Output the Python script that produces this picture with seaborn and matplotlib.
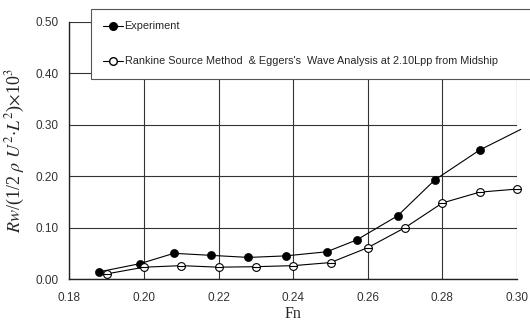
import matplotlib
matplotlib.use("Agg")
import matplotlib.pyplot as plt
import seaborn as sns
import pandas as pd
from matplotlib.lines import Line2D

# Experiment (filled circles)
exp_fn = [0.188, 0.199, 0.208, 0.218, 0.228, 0.238, 0.249, 0.257, 0.268, 0.278, 0.290]
exp_rw = [0.014, 0.030, 0.050, 0.046, 0.042, 0.045, 0.053, 0.076, 0.123, 0.193, 0.251]
# faired curve for the experiment runs on to Fn = 0.30
exp_curve_end_fn = [0.301]
exp_curve_end_rw = [0.291]

# Rankine source method + Eggers wave analysis (open circles)
calc_fn = [0.19, 0.20, 0.21, 0.22, 0.23, 0.24, 0.25, 0.26, 0.27, 0.28, 0.29, 0.30]
calc_rw = [0.010, 0.023, 0.026, 0.023, 0.024, 0.026, 0.032, 0.061, 0.100, 0.148, 0.169, 0.175]

x_ticks = [0.18, 0.20, 0.22, 0.24, 0.26, 0.28, 0.30]
y_ticks = [0.00, 0.10, 0.20, 0.30, 0.40, 0.50]

exp_df = pd.DataFrame({"Fn": exp_fn, "Rw": exp_rw})
exp_line = pd.DataFrame({"Fn": exp_fn + exp_curve_end_fn, "Rw": exp_rw + exp_curve_end_rw})
calc_df = pd.DataFrame({"Fn": calc_fn, "Rw": calc_rw})

sns.set_style("white")
plt.rcParams["font.family"] = ["Liberation Sans", "DejaVu Sans"]
plt.rcParams["mathtext.fontset"] = "stix"

fig = plt.figure(figsize=(5.3, 3.22), dpi=100)
ax = fig.add_axes([0.131, 0.1335, 0.8445, 0.7982])

sns.lineplot(data=exp_line, x="Fn", y="Rw", color="black", lw=0.8, ax=ax, sort=False, clip_on=False)
sns.lineplot(data=calc_df, x="Fn", y="Rw", color="black", lw=0.8, ax=ax, sort=False)
sns.scatterplot(data=exp_df, x="Fn", y="Rw", color="black", edgecolor="black", s=34, ax=ax, zorder=5)
ax.plot(calc_df["Fn"], calc_df["Rw"], ls="none", marker="o", ms=5.6, mfc="white",
        mec="black", mew=0.8, zorder=5, clip_on=False)
# horizontal bar through the open circles
ax.plot(calc_df["Fn"], calc_df["Rw"], ls="none", marker="_", ms=5.6, mec="black", mew=0.8,
        zorder=6, clip_on=False)

ax.set_xlim(0.18, 0.30)
ax.set_ylim(0.0, 0.50)
ax.set_xticks(x_ticks)
ax.set_yticks(y_ticks)
ax.set_xticklabels([f"{v:.2f}" for v in x_ticks])
ax.set_yticklabels([f"{v:.2f}" for v in y_ticks])
ax.tick_params(axis="y", length=0, labelsize=8.5, pad=8, colors="#333333")
ax.tick_params(axis="x", length=0, labelsize=8.5, pad=9, colors="#333333")
ax.grid(True, color="#333333", lw=0.8)
for side in ["top", "right"]:
    ax.spines[side].set_visible(False)
for side in ["left", "bottom"]:
    ax.spines[side].set_color("#222222")
    ax.spines[side].set_linewidth(1.0)

ax.set_xlabel("Fn", family="Liberation Serif", fontsize=11.5, labelpad=2)
ax.set_ylabel(r"$Rw$/(1/2 $\rho$ $U^2$$\cdot$$L^2$)$\times$10$^3$",
              family="Liberation Serif", fontsize=13, labelpad=6)

handles = [
    Line2D([], [], color="black", lw=0.8, marker="o", ms=5.5, mfc="black", mec="black"),
    Line2D([], [], color="black", lw=0.8, marker="o", ms=5.5, mfc="white", mec="black"),
]
labels = ["Experiment",
          "Rankine Source Method  & Eggers's  Wave Analysis at 2.10Lpp from Midship"]
leg = fig.legend(handles, labels, loc="upper left", bbox_to_anchor=(91 / 530, 1 - 80 / 322, 0.9, 71 / 322),
                 mode="expand", borderaxespad=0, fontsize=7.8, frameon=True, fancybox=False,
                 handlelength=1.8, handletextpad=0.15, labelspacing=2.3, borderpad=1.15,
                 edgecolor="#555555", framealpha=1)
leg.get_frame().set_linewidth(0.8)
leg.set_zorder(10)

fig.savefig("out.png", dpi=100)
